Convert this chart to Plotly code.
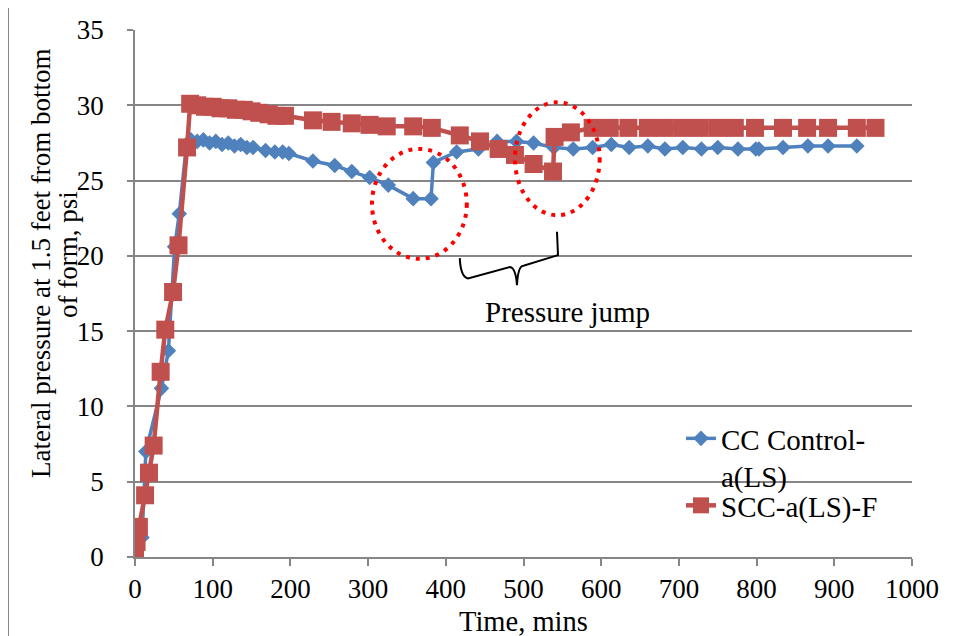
import plotly.graph_objects as go

# ---- data ----
time_cc = [0, 9, 14, 34, 43, 51, 57, 66, 72, 80, 88, 96, 104, 112, 120, 128, 136, 144,
           152, 168, 180, 190, 198, 229, 257, 279, 302, 326, 358, 381, 384, 414, 442,
           466, 491, 513, 539, 564, 589, 613, 636, 660, 682, 705, 729, 750, 776, 799,
           803, 834, 866, 892, 929]
pressure_cc = [0, 1.3, 7.0, 11.2, 13.7, 20.6, 22.8, 27.3, 27.7, 27.6, 27.7, 27.5, 27.6,
               27.4, 27.5, 27.3, 27.4, 27.2, 27.2, 27.0, 26.9, 26.9, 26.8, 26.3, 26.0,
               25.6, 25.2, 24.7, 23.8, 23.8, 26.2, 26.9, 27.1, 27.6, 27.6, 27.5, 27.2,
               27.1, 27.2, 27.4, 27.2, 27.3, 27.1, 27.2, 27.1, 27.2, 27.1, 27.1, 27.1,
               27.2, 27.3, 27.3, 27.3]

time_scc = [0, 2, 5, 13, 18, 24, 33, 39, 49, 56, 67, 71, 80, 90, 100, 110, 120, 130,
            140, 150, 160, 172, 182, 193, 229, 253, 279, 302, 324, 358, 382, 418, 444,
            468, 489, 513, 538, 540, 561, 589, 611, 635, 660, 682, 705, 727, 750, 772,
            798, 834, 865, 892, 929, 953]
pressure_scc = [0, 1.0, 2.0, 4.1, 5.6, 7.4, 12.3, 15.1, 17.6, 20.7, 27.2, 30.1, 30.0,
                29.9, 29.9, 29.8, 29.8, 29.7, 29.7, 29.6, 29.5, 29.4, 29.3, 29.3, 29.0,
                28.9, 28.8, 28.7, 28.6, 28.6, 28.5, 28.0, 27.6, 27.1, 26.7, 26.1, 25.6,
                27.9, 28.2, 28.5, 28.5, 28.5, 28.5, 28.5, 28.5, 28.5, 28.5, 28.5, 28.5,
                28.5, 28.5, 28.5, 28.5, 28.5]

x_ticks = [0, 100, 200, 300, 400, 500, 600, 700, 800, 900, 1000]
y_ticks = [0, 5, 10, 15, 20, 25, 30, 35]

name_cc = "CC Control-<br>a(LS)"
name_scc = "SCC-a(LS)-F"

# ---- layout geometry (page has an 8px body margin) ----
PAGE_OFF = 8
W, H = 957 - PAGE_OFF, 636 - PAGE_OFF
PL, PR, PT, PB = 135, 912, 30, 557          # plot area in page pixels
ML, MT = PL - PAGE_OFF, PT - PAGE_OFF
MR = W - (PR - PAGE_OFF)
MB = H - (PB - PAGE_OFF)
PW, PH = PR - PL, PB - PT


def pxx(p):
    return (p - PL) / PW


def pxy(p):
    return (PB - p) / PH


FONT = "Liberation Serif, Times New Roman, serif"
BLUE = "#4F81BD"
RED = "#C0504D"
GRID = "#868686"

fig = go.Figure()
fig.add_trace(go.Scatter(
    x=time_cc, y=pressure_cc, name=name_cc, mode="lines+markers",
    line=dict(color=BLUE, width=3.5),
    marker=dict(symbol="diamond", size=12, color=BLUE),
    legend="legend",
))
fig.add_trace(go.Scatter(
    x=time_scc, y=pressure_scc, name=name_scc, mode="lines+markers",
    line=dict(color=RED, width=4.5),
    marker=dict(symbol="square", size=18, color=RED),
    legend="legend2",
))

shapes = [
    dict(type="circle", xref="x", yref="y", x0=305, x1=427, y0=19.8, y1=27.1,
         line=dict(color="#FF0000", width=4, dash="4px,6px")),
    dict(type="circle", xref="x", yref="y", x0=489, x1=598, y0=22.7, y1=30.2,
         line=dict(color="#FF0000", width=4, dash="4px,6px")),
    dict(type="path", xref="x", yref="y",
         path="M418,19.85 Q419,18.6 428.6,18.5 L482.6,19.26 Q490,19.2 491.6,18.06 "
              "Q493,19.35 500,19.35 L544.4,20.05 L543.1,21.6",
         line=dict(color="black", width=2)),
    dict(type="line", xref="paper", yref="paper", x0=pxx(8.5), x1=pxx(960), y0=pxy(6), y1=pxy(6),
         line=dict(color="#888888", width=1)),
    dict(type="line", xref="paper", yref="paper", x0=pxx(8.5), x1=pxx(8.5), y0=pxy(6), y1=pxy(640),
         line=dict(color="#888888", width=1)),
]

annotations = [
    dict(text="Pressure jump", x=557, y=16.3, xref="x", yref="y", showarrow=False,
         font=dict(family=FONT, size=29, color="black")),
    dict(text="Lateral pressure at 1.5 feet from bottom", textangle=-90,
         x=pxx(41), y=pxy(263), xref="paper", yref="paper", showarrow=False,
         xanchor="center", yanchor="middle", font=dict(family=FONT, size=27, color="black")),
    dict(text="of form, psi", textangle=-90,
         x=pxx(68), y=pxy(255), xref="paper", yref="paper", showarrow=False,
         xanchor="center", yanchor="middle", font=dict(family=FONT, size=27, color="black")),
    dict(text="Time, mins", x=pxx(523), y=pxy(621), xref="paper", yref="paper",
         showarrow=False, xanchor="center", yanchor="middle",
         font=dict(family=FONT, size=28.5, color="black")),
]

legend_common = dict(xanchor="left", yanchor="top", bgcolor="rgba(0,0,0,0)",
                     valign="top", tracegroupgap=0,
                     font=dict(family=FONT, size=29, color="black"))

fig.update_layout(
    width=W, height=H,
    margin=dict(l=ML, r=MR, t=MT, b=MB, autoexpand=False),
    paper_bgcolor="white", plot_bgcolor="white",
    font=dict(family=FONT, size=27, color="black"),
    showlegend=True,
    legend=dict(x=pxx(681), y=pxy(413), **legend_common),
    legend2=dict(x=pxx(681), y=pxy(480), **legend_common),
    shapes=shapes,
    annotations=annotations,
    xaxis=dict(range=[0, 1000], tickvals=x_ticks, ticktext=[str(v) for v in x_ticks],
               showgrid=False, zeroline=False, showline=True, linecolor=GRID, linewidth=1.5,
               ticks="outside", ticklen=7, tickcolor=GRID, tickwidth=1.5,
               tickfont=dict(family=FONT, size=27, color="black"), automargin=False),
    yaxis=dict(range=[0, 35], tickvals=y_ticks, ticktext=[str(v) for v in y_ticks],
               showgrid=True, gridcolor=GRID, gridwidth=1.5, zeroline=False,
               showline=True, linecolor=GRID, linewidth=1.5,
               ticks="outside", ticklen=6, tickcolor=GRID, tickwidth=1.5,
               ticklabelstandoff=18,
               tickfont=dict(family=FONT, size=27, color="black"), automargin=False),
)

fig.write_html("out.html")
